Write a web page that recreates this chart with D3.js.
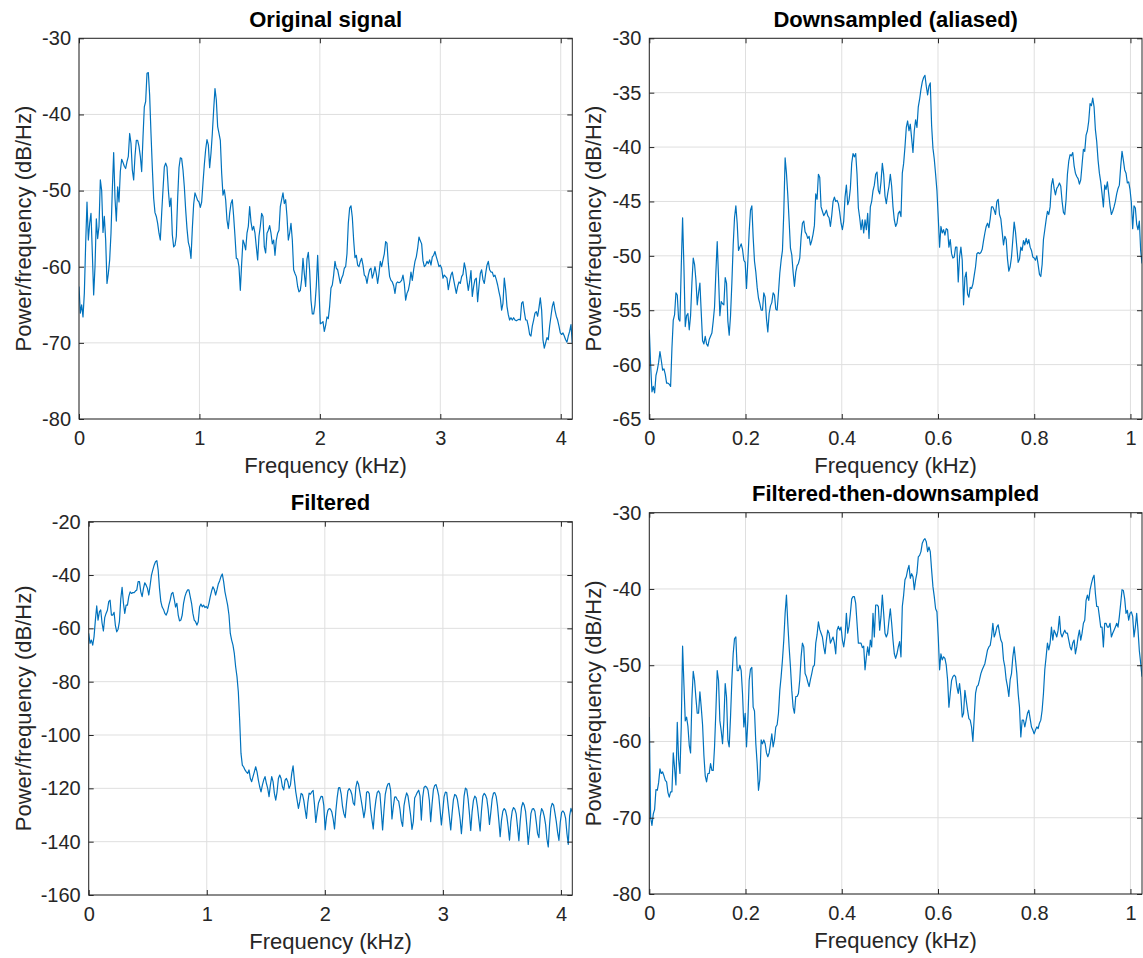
<!DOCTYPE html>
<html>
<head>
<meta charset="utf-8">
<script src="https://cdn.jsdelivr.net/npm/d3@7"></script>
<style>
  body { margin: 0; background: #fff; }
  svg text { font-family: "Liberation Sans", Arial, Helvetica, sans-serif; fill: #262626; }
  .tick line { stroke: #262626; }
</style>
</head>
<body>
<div id="chart"></div>
<script>
// PSD estimates (dB/Hz), one value per equally spaced frequency bin

// Original signal, 0 - 4.096 kHz
var origDb = [
  -62.6, -66.1, -65, -66.6, -63.5, -57, -51.5, -56.5, -54.3, -53,
  -58.2, -63.7, -60, -53.7, -56.3, -54.7, -48.6, -50, -55.5, -53.4,
  -56.5, -62.2, -60.9, -59.1, -55.6, -49.9, -45, -51, -54, -49.5,
  -51.5, -47.5, -45.9, -46.3, -46.8, -47.1, -46.2, -45.5, -42.5, -43.8,
  -47.3, -48.6, -45.5, -43.4, -43.4, -44.2, -45.5, -47.5, -43, -39,
  -38.3, -34.6, -34.5, -37.5, -42.5, -47, -51, -52.9, -53.4, -54.3,
  -55.6, -56.5, -53, -49.9, -46.9, -46.4, -46.9, -49.9, -52.1, -51,
  -55.8, -57.4, -57.2, -56, -51, -47, -45.7, -45.8, -47.3, -49.5,
  -52.5, -55, -56.8, -57.5, -58.9, -55, -51.8, -50.3, -50.8, -51.3,
  -51.5, -52.2, -51.5, -49, -46.6, -44.6, -43.3, -44, -47, -45.1,
  -42.5, -39.4, -36.6, -38.1, -41.6, -42.5, -43.4, -47.7, -50.6, -49.9,
  -51.2, -53.9, -55, -53, -51.7, -51.2, -53.4, -56, -58.9, -59,
  -60, -63.1, -59.6, -56.5, -57, -57.8, -55.6, -54.7, -52.1, -54.1,
  -55.2, -54.7, -55.6, -57.4, -59.1, -56, -54.7, -53, -53.4, -57.4,
  -58.2, -55.6, -55.2, -54.6, -55.6, -57, -56.5, -58.5, -56.5, -55.6,
  -55.2, -52.1, -51.2, -50.3, -51.7, -51.2, -53.4, -56.5, -55.6, -54.3,
  -56.5, -60.4, -60.9, -61.3, -62.6, -63.3, -63.1, -61.7, -58.9, -60.9,
  -62.6, -59, -58.1, -60.5, -64.4, -66.2, -66.2, -65, -62.5, -58.5,
  -63, -67.5, -67.4, -67.2, -68.5, -67.7, -66.6, -66.8, -65.2, -62.8,
  -62.4, -61.1, -59.3, -60.2, -60.4, -61.3, -62.2, -61.5, -61.1, -60.2,
  -60, -58.3, -54.3, -52.3, -52, -53.5, -56.5, -58.8, -58.5, -59.8,
  -60, -59.3, -58.9, -59.8, -61.1, -61.3, -62.2, -61.1, -60.4, -60.2,
  -61.5, -60.9, -60, -60.9, -62.2, -60.9, -59.3, -60, -59.1, -58.3,
  -56.7, -56.9, -59.6, -61.3, -61.8, -62, -62.5, -63.5, -62.2, -62,
  -62.1, -62, -61.8, -61.1, -62.2, -64.4, -63.5, -63.1, -62.2, -60.7,
  -61.8, -60.4, -59.3, -58.7, -57.6, -56.1, -56.6, -57, -59.2, -60,
  -59.8, -59.3, -59.6, -59.1, -59.8, -58.7, -58.5, -58, -58.7, -59.3,
  -60, -59.8, -60.2, -61.5, -61.1, -61.3, -61.5, -63, -62, -61.1,
  -60.7, -61.7, -62.6, -63.5, -62.6, -62, -62.2, -61.3, -61, -59.5,
  -60.3, -61.8, -63.1, -62, -60.5, -63.9, -62.6, -61.7, -61.5, -64.6,
  -62.6, -60.9, -60.4, -61.7, -62.2, -60.9, -59.8, -59.3, -60.4, -60.7,
  -60.7, -61.3, -61.1, -61.7, -62.4, -63.3, -64.1, -65.7, -64.8, -61.5,
  -63, -65.2, -66.3, -67, -66.7, -67, -66.7, -67, -67.1, -67,
  -66.9, -67, -64.8, -64.6, -65.9, -67, -67, -67.8, -68.9, -69.1,
  -67.8, -67, -66.1, -65.9, -66.5, -65.4, -64.1, -65.7, -69.6, -70.7,
  -70, -69.3, -69.6, -67.8, -66.5, -65.2, -64.6, -65.7, -66.5, -67,
  -67.8, -68.7, -68.9, -68.7, -69.1, -69.6, -69.9, -69.1, -68.5, -67.6, -70
];

// Downsampled (aliased), 0 - 1.024 kHz
var downDb = [
  -56.8, -60, -62.5, -62, -62.6, -61, -60.5, -59.8, -58.8, -59.6,
  -60.5, -60.4, -60.9, -61.7, -61.7, -61.8, -62, -58.5, -55.9, -55.4,
  -53.4, -53.6, -55.8, -56, -51, -46.5, -51, -56.5, -55.5, -55.3,
  -56.8, -55.5, -52.5, -50.2, -50.8, -52.2, -54.5, -53.4, -52.5, -55.2,
  -57.8, -58.1, -57.4, -58.1, -58.3, -57.7, -57.4, -57.1, -56, -54.7,
  -51.5, -48.7, -52, -55.5, -54.2, -54.4, -54.5, -52, -52.5, -56,
  -57.3, -55.5, -52.5, -49, -46.5, -45.4, -47, -49.5, -49.2, -48.9,
  -49.4, -50.4, -50.6, -53, -50.5, -47.8, -45.8, -45.4, -48.3, -50.5,
  -51.5, -52.9, -53.9, -54.4, -55, -55, -53.4, -53.8, -55.8, -57,
  -55.3, -54.6, -54.3, -53.4, -53.6, -54.9, -55, -53.4, -51.6, -50.4,
  -49.5, -46, -41, -42.4, -44.4, -46.8, -49.3, -49.9, -51.5, -52.8,
  -51.5, -50.9, -50.7, -50.2, -48.3, -47, -46.8, -47.8, -48, -48.4,
  -48.2, -49, -48.6, -48, -47.2, -44.3, -44.8, -42.5, -42.8, -45.5,
  -45.9, -46.3, -46.1, -45.8, -46.3, -46.5, -47.3, -46.3, -45, -44.6,
  -45, -44.9, -45.2, -46, -47, -47.6, -46.8, -44.6, -43.5, -45.3,
  -44.9, -43.8, -41.5, -40.6, -40.9, -40.6, -42.5, -45.6, -46.5, -47.6,
  -46.7, -47.9, -46.7, -47.6, -46.1, -48.4, -45.5, -45, -44, -43.5,
  -42.5, -42.3, -44, -44.3, -43.2, -41.5, -42.5, -44.5, -45.2, -44.3,
  -43.6, -42.5, -43.6, -45.5, -46.7, -47.3, -47, -46.1, -45.9, -46.4,
  -42.4, -41.5, -40, -38.2, -37.6, -38.5, -37.9, -39.2, -40.5, -38.5,
  -37.5, -38.2, -36.3, -35.6, -34.7, -34, -33.6, -33.4, -34.4, -35.2,
  -34.4, -34.1, -38, -40.1, -41.1, -42.5, -44, -46.5, -49.2, -47.3,
  -47.9, -47.6, -48.1, -47.5, -47.6, -49.2, -48.5, -49.8, -50.2, -50.1,
  -49.2, -49.2, -52.4, -50.1, -49.2, -50.4, -54.5, -52, -51.5, -53.5,
  -53.8, -52.9, -53, -52.6, -51.8, -51, -49.8, -49.7, -49.8, -49.7,
  -49.4, -48.6, -47.9, -47.3, -47, -47.4, -46.6, -45.5, -45.5, -45.8,
  -46.2, -45, -44.8, -46.2, -46.6, -47.8, -49, -48.2, -48.5, -50.3,
  -51.4, -51, -50.1, -48.5, -46.9, -47.8, -49.2, -50.6, -50.3, -49.2,
  -49.5, -48.6, -49, -48.4, -48.9, -48.5, -49.2, -49.5, -50.1, -50.2,
  -50.4, -50, -50.8, -51.7, -51.9, -50.8, -48.5, -47.6, -46.7, -45.9,
  -46.2, -45.5, -43.5, -42.9, -43.8, -44.4, -43.8, -43.6, -43.3, -43.6,
  -45, -46, -46.2, -44.8, -42.5, -41.3, -40.7, -40.8, -40.5, -41.7,
  -42.4, -42.7, -42.9, -43.4, -43, -41.6, -40.2, -40.4, -38.9, -38.5,
  -37.6, -36, -36.2, -35.5, -36.3, -38.4, -39.5, -41.2, -42.4, -43.2,
  -44.3, -45.5, -43.5, -43.9, -43.2, -44.3, -45.4, -46.2, -45.9, -45.5,
  -45, -44.3, -43.8, -43.5, -41.8, -40.4, -41.2, -42.1, -42.4, -43.3,
  -43.2, -43.9, -45.1, -47.5, -45.4, -45.6, -47.1, -47.6, -46.8, -49.5, -50.7
];

// Filtered, 0 - 4.096 kHz
var filtDb = [
  -61.9, -65.6, -64.4, -66.3, -63.1, -56.9, -51.6, -56.9, -53.8, -53.1,
  -58, -61, -56, -54.4, -53.2, -50, -49.4, -55, -55, -54,
  -59, -61.3, -60.3, -57.5, -49, -44.6, -50.6, -54.4, -51.3, -51.3,
  -48.1, -46.3, -46.9, -46.6, -46.6, -46, -45.6, -42.5, -42.5, -46.3,
  -48.1, -45, -42.9, -43.8, -45, -47.5, -43.8, -40, -38.1, -36.3,
  -35, -34.6, -38.1, -45, -50, -52, -52.9, -54.4, -55, -53.8,
  -51.3, -49.4, -47, -46.5, -49, -52, -50.6, -55, -57.2, -56.9,
  -55, -50.6, -48.1, -46.6, -45.6, -45.6, -48.1, -50.6, -54.4, -56.9,
  -57.5, -58.8, -57.5, -52, -50.9, -51.9, -51.3, -52.2, -51.8, -52.5,
  -50.6, -48.1, -46, -44.4, -45.4, -47.5, -45.6, -43.4, -42.2, -40.6,
  -39.6, -42.5, -46.3, -48.8, -51.3, -55, -61.9, -64.4, -66.3, -69.4,
  -74.4, -78.1, -83.8, -94.4, -106.9, -111.3, -112, -113.1, -113.8, -114.4,
  -113.1, -116.3, -117.5, -115.6, -113.8, -111.9, -113.8, -116.9, -119.4, -121.3,
  -118.8, -116.9, -115.6, -118.1, -120, -123.1, -118.8, -115.6, -117.5, -121.9,
  -124.4, -121.3, -116.3, -115, -116.3, -119.4, -120.6, -116.9, -116.3, -117.5,
  -120, -118.8, -114.4, -111.6, -116.9, -121.3, -124.4, -127.5, -125, -121.9,
  -122.3, -124.5, -128, -131.3, -125.4, -121.8, -122.2, -121.3, -120.8, -126,
  -132.8, -128.9, -125.5, -124.2, -123, -123.1, -126.5, -135.5, -130.8, -128.3,
  -127.6, -127.8, -128.9, -131.5, -135.2, -128.5, -123.5, -119.8, -119.7, -122.2,
  -126.8, -129.5, -131, -125.5, -121, -120.1, -120.8, -122.3, -125.5, -126.3,
  -119.6, -117.3, -118.5, -121.5, -124.5, -127.6, -131, -128, -121.5, -121.2,
  -122, -127.9, -131.7, -135.2, -128.5, -124.3, -121.5, -121, -122, -128.5,
  -135.6, -128.4, -122.3, -119.8, -118.4, -118.1, -120.7, -131.5, -127, -123.3,
  -123.2, -124.3, -124.8, -127.8, -132.3, -134.3, -126.6, -123.7, -121.7, -122.9,
  -126.5, -130.2, -135.4, -132.5, -123.6, -122.6, -121.5, -120.7, -122.8, -131.9,
  -123.5, -119.7, -119.2, -119.6, -120.7, -124.5, -132.5, -126, -120.6, -118.9,
  -118.6, -120.4, -122.7, -128, -133.7, -128.7, -123.2, -121.4, -121.6, -126.2,
  -130.8, -135.6, -129.5, -124.3, -122.3, -122.7, -124.2, -127.7, -131.5, -137,
  -130.5, -122.9, -119.9, -120.4, -124, -129.5, -135.8, -128.8, -124.5, -122.9,
  -123.6, -126.8, -131.5, -136, -128.5, -123, -121.9, -122.5, -123.9, -127.8,
  -133.5, -129, -124, -121.8, -121.6, -123, -126.6, -132, -138.1, -132,
  -128.6, -127.6, -128.3, -130.5, -134.5, -139.4, -132.5, -128.6, -127.2, -127.8,
  -129.6, -134.5, -139.6, -132.3, -127.1, -125.3, -126.3, -128.6, -134.2, -141,
  -136, -129.5, -127.8, -127.6, -128.6, -132.5, -137, -138.5, -130.6, -127.6,
  -128.5, -130.5, -133.5, -139, -142, -133.5, -127.3, -125.6, -126.3, -129.2,
  -132.4, -136.5, -139.5, -132.7, -129, -128.5, -129.2, -131.3, -137, -141,
  -130.3, -127.5, -129
];

// Filtered-then-downsampled, 0 - 1.024 kHz
var filtDownDb = [
  -56.8, -70, -71, -69.5, -68.9, -66.3, -66.4, -65.4, -63.6, -64.2,
  -64, -64.5, -65.1, -65.3, -66.7, -67.3, -66.6, -66.6, -61.5, -63.5,
  -65.7, -57.5, -62.3, -64.2, -58, -47.5, -52.5, -57.3, -56.8, -58,
  -60.5, -61.5, -54.5, -50.8, -52, -54.3, -56.3, -56.3, -53.5, -55.5,
  -57.8, -61.8, -64.5, -65.3, -64.2, -64.2, -62.9, -63.8, -63.8, -60.7,
  -56, -50.7, -52, -57.3, -58.6, -60.3, -57.3, -52.4, -54.2, -59.8,
  -60.7, -56.8, -52, -48.5, -46.5, -46.3, -50.7, -50.7, -50, -50.7,
  -53.7, -58.1, -56.3, -60.7, -57.3, -52, -50.5, -50.3, -55.5, -56,
  -60.3, -62.9, -66.4, -65, -59.8, -60.3, -59.8, -60.3, -61.5, -62,
  -61.5, -60.3, -59, -60.7, -59.8, -58.1, -57.8, -56.3, -53.3, -51.5,
  -49.3, -46.7, -43.2, -40.8, -44.5, -47.6, -50.2, -53.3, -55.5, -56.3,
  -54.1, -54.1, -53.7, -51.9, -48.9, -47.1, -47.6, -51.1, -51.5, -52.2,
  -52.8, -51.9, -51.1, -50.2, -50, -47.1, -46, -44.3, -45.3, -45.8,
  -46.3, -47.6, -48.5, -46.7, -45.4, -45.8, -47.1, -46.7, -46.3, -47.1,
  -48.5, -45.4, -44.9, -45.4, -45, -46.7, -47.6, -46.3, -43.2, -45.8,
  -44.9, -43.2, -41.3, -41, -41, -41.9, -44.5, -47.1, -47.1, -47.1,
  -47.7, -47.5, -50.6, -48.9, -47.6, -48.7, -46.7, -47.6, -43.2, -46.3,
  -42.1, -42.1, -42.3, -45.4, -43.6, -40.8, -43.2, -45.8, -46.3, -45.8,
  -44.1, -42.6, -44.5, -46.7, -48.5, -49.1, -48.5, -47.6, -46.9, -48.9,
  -42.3, -40.8, -38.8, -38.4, -37.5, -36.9, -38.6, -38, -38.4, -40.1,
  -38.8, -37.9, -35.8, -35.6, -35.1, -34, -33.6, -33.4, -33.8, -35.1,
  -34.5, -35.1, -37.5, -39.7, -41, -42.6, -43, -46.3, -50.6, -48.5,
  -49.3, -48.9, -49.1, -50, -51.9, -55.5, -53.7, -52, -51.5, -51.3,
  -51.5, -52.8, -53.7, -52.4, -54.1, -56.8, -56.3, -53.3, -54.6, -55.9,
  -57, -57.2, -58.1, -60, -56.8, -53.7, -52.8, -52.6, -51.9, -51.1,
  -50.6, -50.2, -49.8, -48.9, -48, -47.6, -47.4, -46.3, -44.5, -46.3,
  -45.8, -45, -44.7, -45.8, -46.7, -47.1, -49.3, -50.2, -51.9, -52.8,
  -54.1, -51.9, -51.1, -48.9, -47.6, -49.3, -51.1, -53.7, -55.5, -59.4,
  -57.2, -57.2, -58.1, -57.2, -56.3, -55.9, -57, -58.1, -58.5, -59,
  -58.5, -58.1, -58.3, -57.6, -57.2, -55.9, -53.7, -50.6, -48.9, -47.1,
  -48, -47.1, -45, -46.7, -45.4, -45.8, -46.3, -45.4, -43.6, -45.8,
  -46.3, -45.8, -45.4, -45.8, -45.8, -46.7, -47.6, -48, -47.1, -46.7,
  -48.5, -47.6, -46.3, -45.4, -46.7, -45.8, -44.5, -44.1, -41.5, -40.8,
  -41.5, -40.1, -39.3, -38.6, -38.2, -40.6, -42.3, -42.3, -43.6, -45,
  -45, -47.6, -44.5, -44.5, -45, -45, -44.5, -46.3, -45.8, -45.4,
  -45, -44.5, -45, -43.6, -41.9, -40.1, -40.2, -41.3, -43.2, -42.8,
  -44.1, -43.2, -43, -43.6, -46.3, -45, -43.2, -45.4, -48.1, -49.7, -51.5
];

// Tick values
var fullTicksX = [0, 1, 2, 3, 4];
var downTicksX = [0, 0.2, 0.4, 0.6, 0.8, 1];
var origTicksY = [-80, -70, -60, -50, -40, -30];
var downTicksY = [-65, -60, -55, -50, -45, -40, -35, -30];
var filtTicksY = [-160, -140, -120, -100, -80, -60, -40, -20];
var filtDownTicksY = [-80, -70, -60, -50, -40, -30];

// Page size
var width = 1143;
var height = 958;

var lineColor = "#0072bd";
var axisColor = "#262626";
var gridColor = "#dfdfdf";
var tickLen = 5;

var svg = d3
  .select("#chart")
  .append("svg")
  .attr("width", width)
  .attr("height", height);

// One box per subplot (pixel boxes measured on the reference)
var panels = [
  { id: "p1", title: "Original signal", values: origDb, fMax: 4.096, yDomain: [-80, -30],
    xTicks: fullTicksX, yTicks: origTicksY, left: 79, top: 38.3, right: 572.3, bottom: 419 },
  { id: "p2", title: "Downsampled (aliased)", values: downDb, fMax: 1.024, yDomain: [-65, -30],
    xTicks: downTicksX, yTicks: downTicksY, left: 649.3, top: 38.3, right: 1142, bottom: 419 },
  { id: "p3", title: "Filtered", values: filtDb, fMax: 4.096, yDomain: [-160, -20],
    xTicks: fullTicksX, yTicks: filtTicksY, left: 88.7, top: 521.7, right: 572.3, bottom: 895 },
  { id: "p4", title: "Filtered-then-downsampled", values: filtDownDb, fMax: 1.024, yDomain: [-80, -30],
    xTicks: downTicksX, yTicks: filtDownTicksY, left: 649.3, top: 512.7, right: 1142, bottom: 894 }
];

// y-label baseline x for left and right columns
var yLabelX = [30.5, 600.5];

panels.forEach(function(p, k) {
  var xScale = d3.scaleLinear().domain([0, p.fMax]).range([p.left, p.right]);
  var yScale = d3.scaleLinear().domain(p.yDomain).range([p.bottom, p.top]);
  var n = p.values.length;

  var g = svg.append("g").attr("class", "panel " + p.id);

  // Grid lines
  g.append("g")
    .selectAll("line.gx")
    .data(p.xTicks)
    .enter()
    .append("line")
    .attr("x1", function(d) { return xScale(d); })
    .attr("x2", function(d) { return xScale(d); })
    .attr("y1", p.top)
    .attr("y2", p.bottom)
    .attr("stroke", gridColor)
    .attr("stroke-width", 1);

  g.append("g")
    .selectAll("line.gy")
    .data(p.yTicks)
    .enter()
    .append("line")
    .attr("x1", p.left)
    .attr("x2", p.right)
    .attr("y1", function(d) { return yScale(d); })
    .attr("y2", function(d) { return yScale(d); })
    .attr("stroke", gridColor)
    .attr("stroke-width", 1);

  // Clip the trace to the axes box
  svg.append("clipPath")
    .attr("id", "clip-" + p.id)
    .append("rect")
    .attr("x", p.left)
    .attr("y", p.top)
    .attr("width", p.right - p.left)
    .attr("height", p.bottom - p.top);

  var line = d3.line()
    .x(function(d, i) { return xScale(i * p.fMax / (n - 1)); })
    .y(function(d) { return yScale(d); });

  g.append("path")
    .datum(p.values)
    .attr("clip-path", "url(#clip-" + p.id + ")")
    .attr("fill", "none")
    .attr("stroke", lineColor)
    .attr("stroke-width", 1.2)
    .attr("stroke-linejoin", "round")
    .attr("d", line);

  var fmt = function(d) { return String(d); };

  // Axes: ticks point inward on all four sides
  var bottomAxis = d3.axisBottom(xScale).tickValues(p.xTicks).tickFormat(fmt)
    .tickSizeInner(-tickLen).tickSizeOuter(0).tickPadding(12);
  var topAxis = d3.axisTop(xScale).tickValues(p.xTicks).tickFormat("")
    .tickSizeInner(-tickLen).tickSizeOuter(0);
  var leftAxis = d3.axisLeft(yScale).tickValues(p.yTicks).tickFormat(fmt)
    .tickSizeInner(-tickLen).tickSizeOuter(0).tickPadding(8);
  var rightAxis = d3.axisRight(yScale).tickValues(p.yTicks).tickFormat("")
    .tickSizeInner(-tickLen).tickSizeOuter(0);

  var axes = [
    [bottomAxis, "translate(0," + p.bottom + ")"],
    [topAxis, "translate(0," + p.top + ")"],
    [leftAxis, "translate(" + p.left + ",0)"],
    [rightAxis, "translate(" + p.right + ",0)"]
  ];
  axes.forEach(function(a) {
    var ag = g.append("g").attr("transform", a[1]).call(a[0]);
    ag.select(".domain").remove();
    ag.selectAll("text").attr("font-size", 20).attr("fill", axisColor);
    ag.selectAll("line").attr("stroke", axisColor);
  });

  // Box
  g.append("rect")
    .attr("x", p.left)
    .attr("y", p.top)
    .attr("width", p.right - p.left)
    .attr("height", p.bottom - p.top)
    .attr("fill", "none")
    .attr("stroke", axisColor)
    .attr("stroke-width", 1);

  // Title
  g.append("text")
    .attr("x", (p.left + p.right) / 2)
    .attr("y", p.top - 11.5)
    .attr("text-anchor", "middle")
    .attr("font-size", 22)
    .attr("font-weight", "bold")
    .style("fill", "#000")
    .text(p.title);

  // x label
  g.append("text")
    .attr("x", (p.left + p.right) / 2)
    .attr("y", p.bottom + 54)
    .attr("text-anchor", "middle")
    .attr("font-size", 22)
    .text("Frequency (kHz)");

  // y label
  var ly = (p.top + p.bottom) / 2;
  var lx = yLabelX[k % 2];
  g.append("text")
    .attr("transform", "translate(" + lx + "," + ly + ") rotate(-90)")
    .attr("text-anchor", "middle")
    .attr("font-size", 22)
    .text("Power/frequency (dB/Hz)");
});
</script>
</body>
</html>
